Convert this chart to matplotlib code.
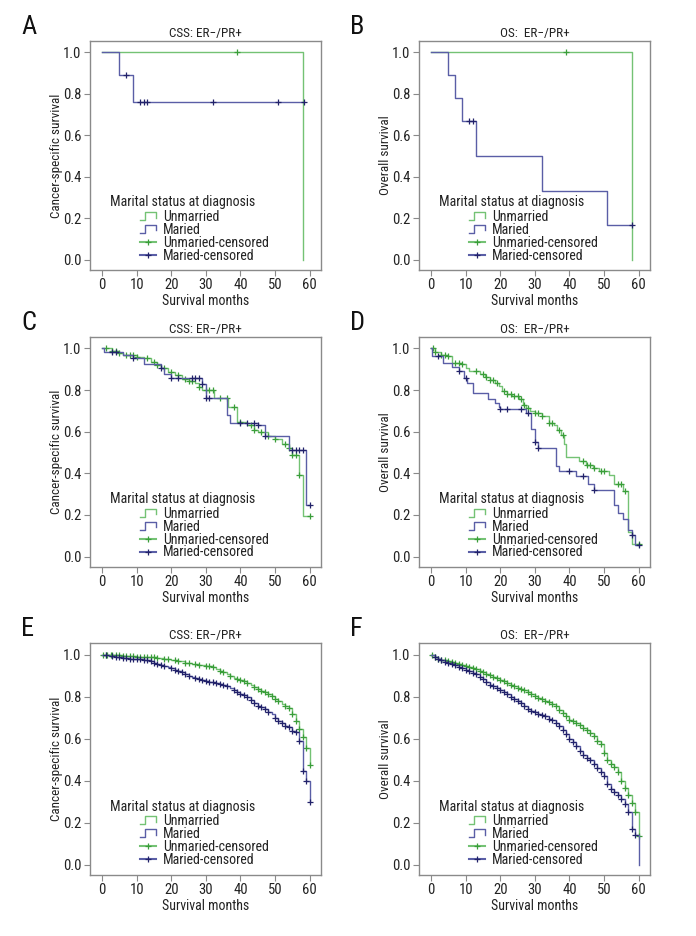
import numpy as np
import matplotlib
matplotlib.use("Agg")
import matplotlib.pyplot as plt
from matplotlib.legend_handler import HandlerBase
from matplotlib.lines import Line2D
from matplotlib import font_manager

# narrow face, as in the original figure
names = {f.name for f in font_manager.fontManager.ttflist}
narrow = [n for n in ['Liberation Sans Narrow', 'Roboto Condensed', 'Open Sans Condensed',
                      'Noto Sans Condensed', 'DejaVu Sans Condensed'] if n in names]
plt.rcParams['font.family'] = narrow + ['DejaVu Sans']
plt.rcParams['font.stretch'] = 'condensed'

# ---- data: (event times, survival after event), censored times ----
# A: CSS, small group
a_un_t = [0, 58]
a_un_s = [1.0, 0.0]
a_un_c = [39]
a_ma_t = [0, 5, 9, 58.5]
a_ma_s = [1.0, 0.889, 0.762, 0.762]
a_ma_c = [7, 11, 12, 13, 32, 51, 58.5]

# B: OS, small group
b_un_t = [0, 58]
b_un_s = [1.0, 0.0]
b_un_c = [39]
b_ma_t = [0, 5, 7, 9, 13, 32, 51, 58]
b_ma_s = [1.0, 0.889, 0.778, 0.667, 0.5, 0.333, 0.167, 0.167]
b_ma_c = [11, 12, 58]

# C: CSS, medium group
c_un_t = [0, 3, 5, 6, 10, 12, 14, 16, 17, 19, 21, 23, 25, 27, 28, 29, 32.5, 36.5, 39,
          42, 44, 45, 48, 50, 52, 54, 55, 57, 58, 60]
c_un_s = [1.0, 0.99, 0.98, 0.97, 0.96, 0.952, 0.936, 0.92, 0.904, 0.888, 0.872, 0.853,
          0.845, 0.832, 0.816, 0.80, 0.763, 0.72, 0.645, 0.63, 0.61, 0.60, 0.58, 0.565,
          0.54, 0.52, 0.49, 0.39, 0.195, 0.195]
c_un_c = [1, 3, 4, 5, 7, 8, 9, 10, 13, 15, 16, 18, 20, 22, 24, 25, 26, 28, 30, 31, 32,
          34, 36, 38, 40, 43, 44, 46, 48, 50, 53, 54, 55, 56, 57, 60]
c_ma_t = [0, 0.5, 6, 9, 12, 17, 18, 20, 29, 30, 36, 37, 45, 47, 54, 59, 60]
c_ma_s = [1.0, 0.984, 0.968, 0.955, 0.923, 0.904, 0.875, 0.856, 0.83, 0.76, 0.68,
          0.64, 0.63, 0.58, 0.51, 0.25, 0.25]
c_ma_c = [3, 4, 9, 17, 20, 22, 26, 27, 28, 29, 30, 31, 40, 42, 44, 45, 47, 55, 56, 57,
          58, 60]

# D: OS, medium group
d_un_t = [0, 1, 3, 5, 6, 9, 10, 11, 14, 15.5, 17, 18.5, 19.5, 20.5, 22, 23.5, 25.5,
          26.5, 27.5, 28.5, 30, 32, 34, 35.5, 36.5, 37.5, 38.4, 39, 42.8, 44.7, 46.7,
          48.6, 51.5, 53, 55.4, 57, 58, 60]
d_un_s = [1.0, 0.984, 0.97, 0.963, 0.93, 0.923, 0.907, 0.89, 0.875, 0.862, 0.85, 0.835,
          0.82, 0.795, 0.78, 0.77, 0.755, 0.73, 0.715, 0.70, 0.69, 0.674, 0.64, 0.634,
          0.61, 0.586, 0.54, 0.48, 0.458, 0.44, 0.425, 0.41, 0.393, 0.35, 0.315, 0.12,
          0.06, 0.06]
d_un_c = [0.5, 1, 3, 4, 5, 7, 8, 9, 13, 15, 16, 17, 18, 19, 21, 22, 23, 24, 25, 26, 27,
          28, 30, 31, 32, 34, 35, 37, 38, 44, 45, 46, 47, 49, 50, 54, 55, 56, 60]
d_ma_t = [0, 0.3, 3.5, 6, 8, 9.5, 10.5, 12, 16.5, 18.5, 19.5, 20, 27.5, 29, 30, 31, 36,
          37, 42, 45.5, 47, 53, 54, 55.5, 57, 58, 59, 60]
d_ma_s = [1.0, 0.965, 0.93, 0.91, 0.89, 0.86, 0.835, 0.785, 0.755, 0.74, 0.72, 0.71,
          0.69, 0.615, 0.55, 0.52, 0.435, 0.41, 0.385, 0.35, 0.32, 0.25, 0.21, 0.18,
          0.13, 0.105, 0.055, 0.055]
d_ma_c = [2, 8, 10, 20, 22, 26, 28, 30, 31, 40, 44, 47, 58, 60]

# E: CSS, large group
e_un_t = [0, 2, 4, 6, 8, 10, 12, 14, 16, 18, 20, 22, 24, 26, 28, 30, 32, 33, 34, 35,
          36, 37, 38, 39, 40, 41, 42, 43, 44, 45, 46, 47, 48, 49, 50, 51, 52, 53, 54,
          55, 56, 57, 58, 59, 60]
e_un_s = [1.0, 0.998, 0.996, 0.994, 0.992, 0.99, 0.988, 0.986, 0.983, 0.979, 0.974,
          0.968, 0.962, 0.956, 0.951, 0.947, 0.940, 0.932, 0.922, 0.915, 0.908, 0.899,
          0.890, 0.884, 0.878, 0.872, 0.865, 0.855, 0.845, 0.836, 0.828, 0.820, 0.812,
          0.804, 0.790, 0.777, 0.764, 0.757, 0.745, 0.717, 0.685, 0.645, 0.605, 0.557,
          0.475]
e_un_c = [0.3, 1, 1.5, 2.5, 3, 4, 5, 6, 7, 8, 9, 10, 11, 12, 13, 14, 15, 16, 18, 19,
          21, 22, 24, 25, 27, 28, 30, 31, 32, 34, 35, 37, 39, 40, 41, 42, 44, 45, 46,
          47, 48, 49, 50, 51, 53, 54, 55, 56, 57, 58, 59, 60]
e_ma_t = [0, 2, 4, 6, 8, 10, 12, 14, 15, 16, 17, 18, 19, 20, 21, 22, 23, 24, 25, 26,
          27, 28, 29, 30, 31, 32, 33, 34, 35, 36, 37, 38, 39, 40, 41, 42, 43, 44, 45,
          46, 47, 48, 49, 50, 51, 52, 53, 54, 55, 56, 57, 58, 59, 60]
e_ma_s = [1.0, 0.995, 0.988, 0.982, 0.980, 0.978, 0.975, 0.970, 0.962, 0.955, 0.950,
          0.945, 0.940, 0.935, 0.928, 0.922, 0.915, 0.908, 0.900, 0.892, 0.886, 0.882,
          0.878, 0.874, 0.870, 0.867, 0.864, 0.861, 0.856, 0.850, 0.842, 0.832, 0.822,
          0.813, 0.805, 0.797, 0.785, 0.770, 0.757, 0.748, 0.740, 0.728, 0.715, 0.700,
          0.685, 0.675, 0.662, 0.656, 0.634, 0.63, 0.59, 0.445, 0.40, 0.30]
e_ma_c = [1, 3, 4, 5, 6, 7, 8, 9, 10, 11, 12, 13, 14, 15, 16, 17, 18, 20, 21, 22, 23,
          24, 25, 27, 28, 29, 30, 31, 32, 33, 34, 35, 36, 38, 39, 40, 41, 42, 43, 44,
          45, 46, 47, 48, 50, 51, 52, 53, 54, 55, 56, 57, 58, 59, 60]

# F: OS, large group (one step per month)
f_t = list(range(0, 61))
f_un_s = [1.0, 0.99, 0.979, 0.975, 0.972, 0.968, 0.964, 0.96, 0.955, 0.95, 0.945, 0.94,
          0.935, 0.93, 0.922, 0.915, 0.908, 0.902, 0.895, 0.888, 0.88, 0.872, 0.864,
          0.856, 0.848, 0.842, 0.836, 0.83, 0.822, 0.812, 0.802, 0.795, 0.788, 0.781,
          0.772, 0.764, 0.755, 0.738, 0.722, 0.705, 0.69, 0.682, 0.674, 0.665, 0.652,
          0.64, 0.628, 0.612, 0.59, 0.572, 0.53, 0.50, 0.48, 0.465, 0.44, 0.40, 0.365,
          0.33, 0.295, 0.25, 0.135]
f_un_c = [0.3, 1, 2, 3, 4, 5, 6, 7, 8, 9, 10, 11, 12, 13, 14, 15, 16, 17, 18, 19, 20,
          21, 22, 23, 24, 25, 26, 27, 28, 29, 30, 31, 32, 33, 34, 35, 36, 37, 38, 39,
          40, 41, 42, 43, 44, 45, 46, 47, 48, 49, 50, 51, 52, 53, 54, 55, 56, 57, 58,
          59, 60]
f_ma_s = [1.0, 0.99, 0.979, 0.972, 0.966, 0.96, 0.955, 0.948, 0.94, 0.934, 0.928, 0.92,
          0.913, 0.905, 0.895, 0.885, 0.87, 0.857, 0.849, 0.84, 0.83, 0.82, 0.81, 0.8,
          0.79, 0.78, 0.768, 0.755, 0.742, 0.732, 0.724, 0.718, 0.712, 0.706, 0.695,
          0.686, 0.672, 0.66, 0.64, 0.62, 0.6, 0.585, 0.565, 0.54, 0.52, 0.505, 0.498,
          0.48, 0.46, 0.44, 0.42, 0.385, 0.36, 0.345, 0.33, 0.31, 0.29, 0.25, 0.17,
          0.14, 0.0]
f_ma_c = [1, 2, 3, 4, 5, 6, 7, 8, 9, 10, 11, 12, 13, 14, 15, 16, 17, 18, 19, 20, 21,
          22, 23, 24, 25, 26, 27, 28, 29, 30, 31, 32, 33, 34, 35, 36, 37, 38, 39, 40,
          41, 42, 43, 44, 45, 46, 47, 48, 49, 50, 51, 52, 53, 54, 55, 56, 57, 58, 59]

panels = [
    ("A", "CSS: ER\u2212/PR+", "Cancer-specific survival",
     (a_un_t, a_un_s, a_un_c), (a_ma_t, a_ma_s, a_ma_c)),
    ("B", "OS:  ER\u2212/PR+", "Overall survival",
     (b_un_t, b_un_s, b_un_c), (b_ma_t, b_ma_s, b_ma_c)),
    ("C", "CSS: ER\u2212/PR+", "Cancer-specific survival",
     (c_un_t, c_un_s, c_un_c), (c_ma_t, c_ma_s, c_ma_c)),
    ("D", "OS:  ER\u2212/PR+", "Overall survival",
     (d_un_t, d_un_s, d_un_c), (d_ma_t, d_ma_s, d_ma_c)),
    ("E", "CSS: ER\u2212/PR+", "Cancer-specific survival",
     (e_un_t, e_un_s, e_un_c), (e_ma_t, e_ma_s, e_ma_c)),
    ("F", "OS:  ER\u2212/PR+", "Overall survival",
     (f_t, f_un_s, f_un_c), (f_t, f_ma_s, f_ma_c)),
]

GREEN = '#74c274'
GREEN_C = '#3a9e3a'
BLUE = '#5a5ea6'
BLUE_C = '#22226a'
GRAY = '#8a8a8a'
TXT = '#222222'


class StepHandler(HandlerBase):
    # legend key drawn as a small step "_|-|"
    def create_artists(self, legend, orig_handle, xdescent, ydescent, width, height,
                       fontsize, trans):
        x0, y0 = -xdescent, -ydescent
        xs = np.array([0, 0.3, 0.3, 1.0, 1.0]) * width + x0
        ys = np.array([0.1, 0.1, 0.9, 0.9, 0.35]) * height + y0
        ln = Line2D(xs, ys, color=orig_handle.get_color(), lw=1.0, transform=trans)
        return [ln]


def censor_y(t, s, c):
    t = np.asarray(t, float)
    idx = np.searchsorted(t, np.asarray(c, float), side='right') - 1
    return np.asarray(s)[idx]


fig = plt.figure(figsize=(6.96, 9.36), dpi=100)
W, H = 696, 936
cols = [90, 419]
rows = [(41, 270), (337, 567), (643, 875)]

for i, (letter, title, ylab, un, ma) in enumerate(panels):
    left = cols[i % 2]
    top, bot = rows[i // 2]
    ax = fig.add_axes([left / W, 1 - bot / H, 231 / W, (bot - top) / H])

    for (t, s, c), col, ccol in [(un, GREEN, GREEN_C), (ma, BLUE, BLUE_C)]:
        ax.plot(t, s, drawstyle='steps-post', color=col, lw=1.0)
        ax.plot(c, censor_y(t, s, c), ls='none', marker='+', ms=5, mew=0.9, color=ccol)

    ax.set_xlim(-3.5, 63.3)
    ax.set_ylim(-0.05, 1.055)
    ax.set_xticks(range(0, 61, 10))
    ax.set_yticks([0.0, 0.2, 0.4, 0.6, 0.8, 1.0])
    ax.set_yticklabels(['0.0', '0.2', '0.4', '0.6', '0.8', '1.0'])
    ax.tick_params(labelsize=10.5, length=4, color=GRAY, width=0.8, pad=2, labelcolor=TXT)
    for sp in ax.spines.values():
        sp.set_color(GRAY)
        sp.set_linewidth(1.0)
    ax.set_title(title, fontsize=9.5, pad=3, color=TXT)
    ax.set_xlabel("Survival months", fontsize=10, labelpad=1, color=TXT)
    ax.set_ylabel(ylab, fontsize=9.5, labelpad=0, color=TXT)

    ax.text(0.087, 0.295, "Marital status at diagnosis", transform=ax.transAxes,
            fontsize=10, va='center', ha='left', color=TXT)
    hs = [Line2D([], [], color=GREEN), Line2D([], [], color=BLUE),
          Line2D([], [], color=GREEN, marker='+', ms=5, mew=0.9, markeredgecolor=GREEN_C),
          Line2D([], [], color=BLUE, marker='+', ms=5, mew=0.9, markeredgecolor=BLUE_C)]
    leg = ax.legend(hs, ["Unmarried", "Maried", "Unmaried-censored", "Maried-censored"],
                    loc='upper left', bbox_to_anchor=(0.215, 0.262), frameon=False,
                    fontsize=10, handlelength=1.2, handletextpad=0.5, labelspacing=-0.08,
                    borderpad=0, borderaxespad=0,
                    handler_map={hs[0]: StepHandler(), hs[1]: StepHandler()})
    for tx in leg.get_texts():
        tx.set_color(TXT)

    fig.text((left - 69) / W, 1 - (top - 14) / H, letter, fontsize=19, va='center',
             ha='left', color='#111111')

fig.savefig("out.png", dpi=100)
